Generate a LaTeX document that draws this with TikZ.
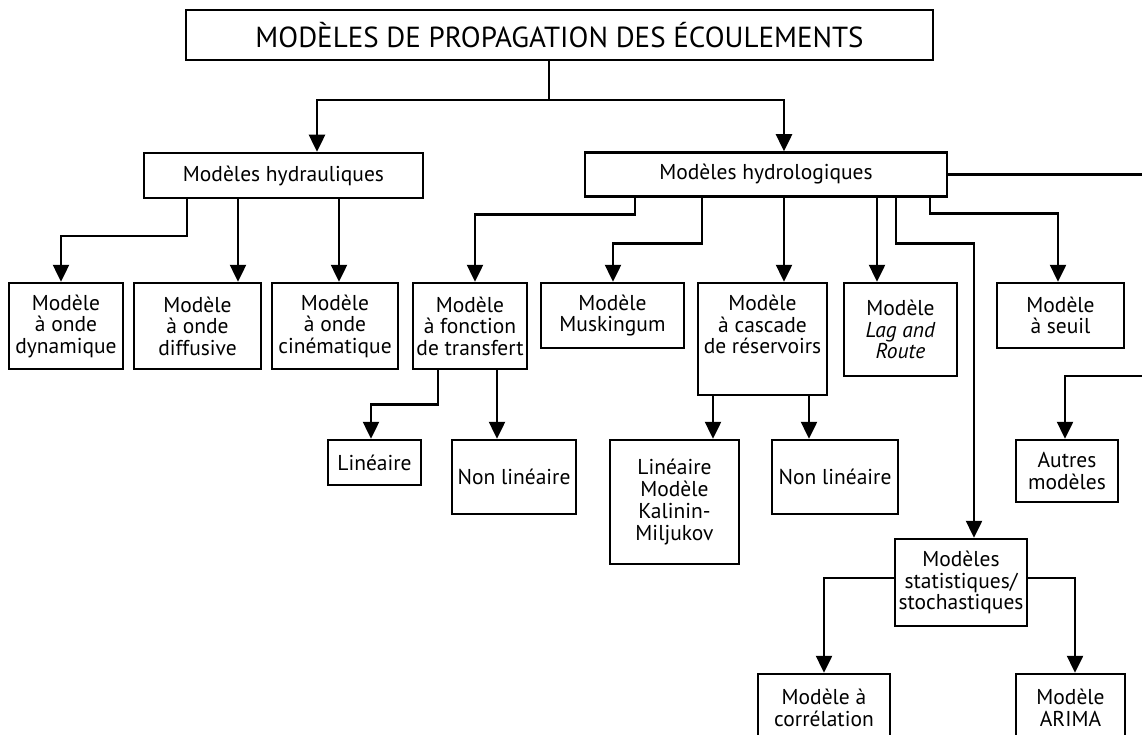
\documentclass[tikz,border=0pt]{standalone}
\usepackage{fontspec}
\setmainfont{PT Sans}
\usetikzlibrary{arrows.meta}

\begin{document}
\begin{tikzpicture}[
	x=1pt, y=-1pt,
	box/.style={rectangle, draw, line width=2.5pt, align=center, inner sep=1pt, font=\fontsize{21.5}{21.5}\selectfont},
	conn/.style={line width=2.5pt, -{Triangle[length=17pt,width=16pt]}},
	link/.style={line width=2.5pt},
]
	\fill[white] (0,0) rectangle (1142,735);
	\useasboundingbox (0,0) rectangle (1142,735);
	\clip (0,0) rectangle (1142,735);

	% Titre (top)
	\node[box, font=\fontsize{29}{30}\selectfont, minimum width=747pt, minimum height=50pt] (title) at (559.5,35) {MODÈLES DE PROPAGATION DES ÉCOULEMENTS};

	% Hydrauliques / hydrologiques
	\node[box, minimum width=279pt, minimum height=45pt] (hydrau) at (283.5,175.5) {Modèles hydrauliques};
	\node[box, minimum width=362pt, minimum height=44pt] (hydrol) at (766,174.5) {Modèles hydrologiques};

	% Modeles hydrauliques
	\node[box, minimum width=114pt, minimum height=86pt] (dyn) at (66,326) {Modèle\\à onde\\dynamique};
	\node[box, minimum width=127pt, minimum height=86pt] (diff) at (197.5,326) {Modèle\\à onde\\diffusive};
	\node[box, minimum width=126pt, minimum height=86pt] (cine) at (335,326) {Modèle\\à onde\\cinématique};

	% Modeles hydrologiques
	\node[box, minimum width=114pt, minimum height=86pt] (fonct) at (470,326) {Modèle\\à fonction\\de transfert};
	\node[box, minimum width=143pt, minimum height=65pt] (musk) at (612.5,315.5) {Modèle\\Muskingum};
	\node[box, minimum width=129pt, minimum height=112pt] (casc) at (762.5,339) {Modèle\\à cascade\\de réservoirs\\[7pt]};
	\node[box, minimum width=113pt, minimum height=93pt] (lag) at (900.5,329.5) {Modèle\\\textit{Lag and}\\\textit{Route}};
	\node[box, minimum width=127pt, minimum height=65pt] (seuil) at (1060.5,315.5) {Modèle\\à seuil};

	% Third level
	\node[box, minimum width=93pt, minimum height=45pt] (lin) at (374.5,462.5) {Linéaire};
	\node[box, minimum width=124pt, minimum height=74pt] (nonlin) at (514,477) {Non linéaire};
	\node[box, font=\fontsize{21.5}{22.3}\selectfont, minimum width=129pt, minimum height=124pt] (kalinin) at (674.5,502) {Linéaire\\Modèle\\Kalinin-\\Miljukov};
	\node[box, minimum width=126pt, minimum height=74pt] (nonlinres) at (835,477) {Non linéaire};
	\node[box, minimum width=102pt, minimum height=62pt] (autres) at (1067,471) {Autres\\modèles};

	% Statistiques (bottom)
	\node[box, minimum width=132pt, minimum height=87pt] (stat) at (961,582.5) {Modèles\\statistiques/\\stochastiques};
	\node[box, minimum width=132pt, minimum height=68pt] (correl) at (824,708) {Modèle à\\corrélation};
	\node[box, minimum width=109pt, minimum height=68pt] (arima) at (1070.5,708) {Modèle\\ARIMA};

	% Right edge (cut)
	\coordinate (edgeA) at (1150,174.5);
	\coordinate (edgeB) at (1150,376);

	% Title -> level 2
	\draw[conn] ([xshift=-10.5pt]title.south) -- ++(0,39) -| ([xshift=33.5pt]hydrau.north);
	\draw[conn] ([xshift=-10.5pt]title.south) -- ++(0,39) -| ([xshift=18pt]hydrol.north);

	% hydrauliques
	\draw[conn] ([xshift=-96.5pt]hydrau.south) -- ++(0,37) -| ([xshift=-5pt]dyn.north);
	\draw[conn] ([xshift=-45.5pt]hydrau.south) -- ([xshift=40.5pt]diff.north);
	\draw[conn] ([xshift=55.5pt]hydrau.south) -- ([xshift=4pt]cine.north);

	% hydrologiques
	\draw[conn] ([xshift=-131pt]hydrol.south) -- ++(0,17) -| ([xshift=5pt]fonct.north);
	\draw[conn] ([xshift=-64pt]hydrol.south) -- ++(0,46) -| ([xshift=0.5pt]musk.north);
	\draw[conn] ([xshift=18pt]hydrol.south) -- ([xshift=21.5pt]casc.north);
	\draw[conn] ([xshift=111pt]hydrol.south) -- ([xshift=-23.5pt]lag.north);
	\draw[conn] ([xshift=130pt]hydrol.south) -- ++(0,46) -| ([xshift=13pt]stat.north);
	\draw[conn] ([xshift=164pt]hydrol.south) -- ++(0,16) -| ([xshift=-2.5pt]seuil.north);
	\draw[link] (hydrol.east) -- (edgeA);
	\draw[conn] (edgeB) -| ([xshift=-2pt]autres.north);

	% fonction de transfert
	\draw[conn] ([xshift=-32pt]fonct.south) -- ++(0,34) -| ([xshift=-3.5pt]lin.north);
	\draw[conn] ([xshift=27pt]fonct.south) -- ([xshift=-17pt]nonlin.north);

	% cascade de reservoirs
	\draw[conn] ([xshift=-49.5pt]casc.south) -- ([xshift=38.5pt]kalinin.north);
	\draw[conn] ([xshift=46.5pt]casc.south) -- ([xshift=-26pt]nonlinres.north);

	% statistiques
	\draw[conn] ([yshift=4.5pt]stat.west) -| (correl.north);
	\draw[conn] ([yshift=4.5pt]stat.east) -| ([xshift=4.5pt]arima.north);

\end{tikzpicture}
\end{document}
